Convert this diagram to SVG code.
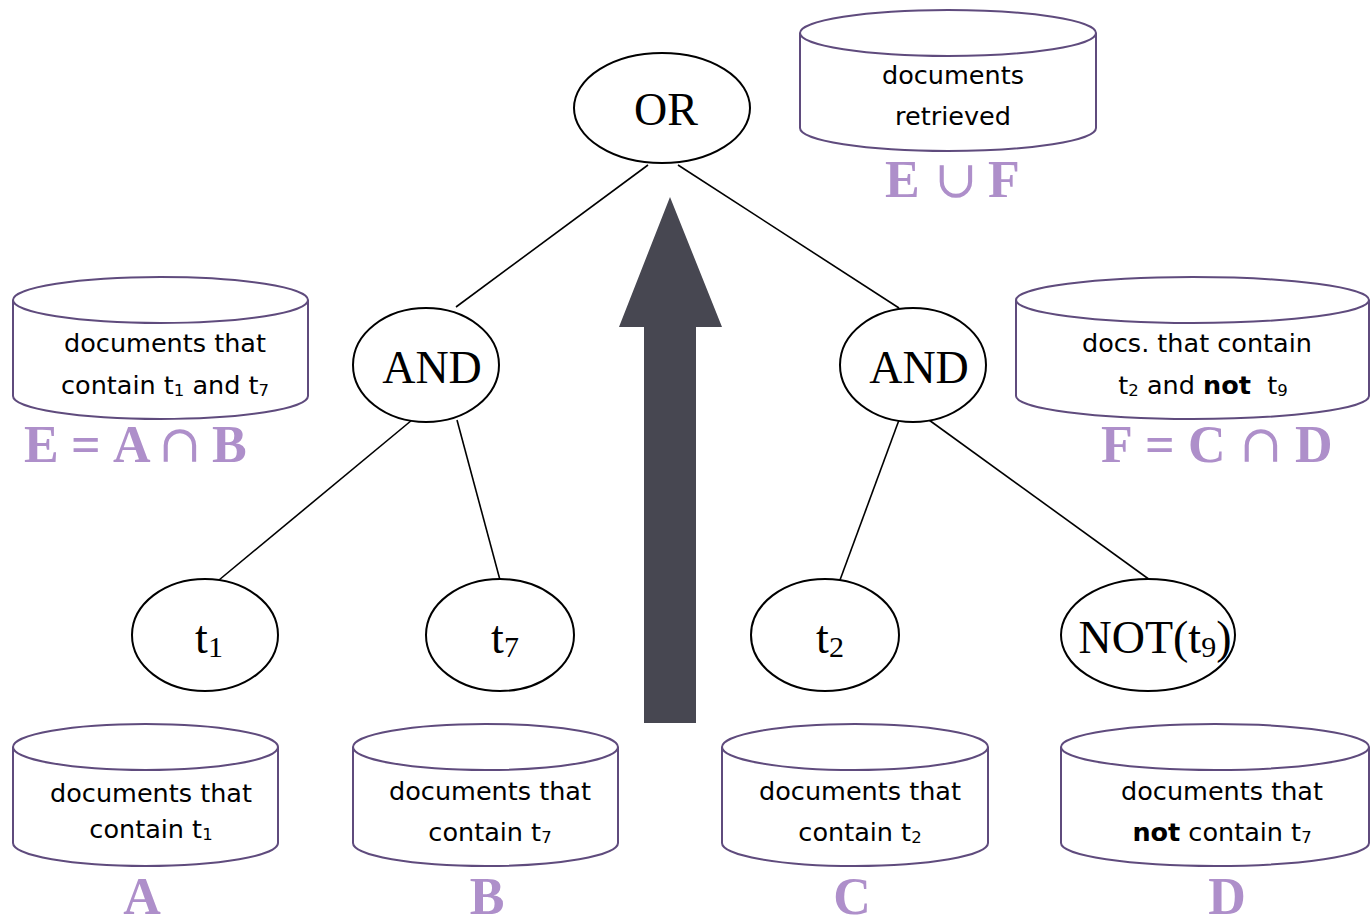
<svg xmlns="http://www.w3.org/2000/svg" width="1370" height="923" viewBox="0 0 1370 923">
  <style>
    .node { fill: #ffffff; stroke: #000000; stroke-width: 2; }
    .op { font-family: "Liberation Serif", "Times New Roman", serif; font-size: 46px; fill: #000000; text-anchor: middle; }
    .sub { font-size: 30px; }
    .edge { stroke: #000000; stroke-width: 1.6; fill: none; }
    .db { fill: #ffffff; stroke: #5f4b7d; stroke-width: 2; }
    .dbtext { font-family: "DejaVu Sans", Verdana, sans-serif; font-size: 25.5px; fill: #000000; text-anchor: middle; }
    .dsub { font-size: 16.5px; }
    .set { font-family: "Liberation Serif", "Times New Roman", serif; font-weight: bold; font-size: 52px; fill: #ae8fca; }
    .setop { font-family: "DejaVu Serif", "Liberation Serif", serif; font-weight: normal; }
  </style>

  <!-- tree edges -->
  <g id="connectors">
    <line class="edge" x1="648" y1="165" x2="456" y2="307"/>
    <line class="edge" x1="678" y1="165" x2="899" y2="308"/>
    <line class="edge" x1="412" y1="420" x2="219" y2="580"/>
    <line class="edge" x1="457" y1="420" x2="500" y2="580"/>
    <line class="edge" x1="899" y1="420" x2="840" y2="580"/>
    <line class="edge" x1="929" y1="420" x2="1150" y2="580"/>
  </g>

  <!-- evaluation direction arrow -->
  <g id="arrow">
    <polygon points="670,197 722,327 696,327 696,723 644,723 644,327 619,327" fill="#474751"/>
  </g>

  <!-- operator nodes -->
  <g id="or-node">
    <ellipse class="node" cx="662" cy="108" rx="88" ry="55"/>
    <text class="op" x="666" y="125">OR</text>
  </g>
  <g id="and-left">
    <ellipse class="node" cx="426" cy="365" rx="73" ry="57"/>
    <text class="op" x="432" y="383">AND</text>
  </g>
  <g id="and-right">
    <ellipse class="node" cx="913" cy="365" rx="73" ry="57"/>
    <text class="op" x="919" y="383">AND</text>
  </g>
  <g id="t1-node">
    <ellipse class="node" cx="205" cy="635" rx="73" ry="56"/>
    <text class="op" x="209" y="653">t<tspan class="sub" dy="4">1</tspan></text>
  </g>
  <g id="t7-node">
    <ellipse class="node" cx="500" cy="635" rx="74" ry="56"/>
    <text class="op" x="505" y="653">t<tspan class="sub" dy="4">7</tspan></text>
  </g>
  <g id="t2-node">
    <ellipse class="node" cx="825" cy="635" rx="74" ry="56"/>
    <text class="op" x="830" y="653">t<tspan class="sub" dy="4">2</tspan></text>
  </g>
  <g id="not-t9-node">
    <ellipse class="node" cx="1148" cy="635" rx="87" ry="56"/>
    <text class="op" x="1155" y="653" font-size="47">NOT(t<tspan class="sub" dy="4">9</tspan><tspan dy="-4">)</tspan></text>
  </g>

  <!-- result sets -->
  <g id="set-retrieved">
    <path class="db" d="M800 33 V128 A148 23 0 0 0 1096 128 V33"/>
    <ellipse class="db" cx="948" cy="33" rx="148" ry="23"/>
    <text class="dbtext" x="953" y="84">documents</text>
    <text class="dbtext" x="953" y="125">retrieved</text>
    <text class="set"><tspan x="885" y="197">E</tspan><tspan class="setop" x="934" y="197">∪</tspan><tspan x="988" y="197">F</tspan></text>
  </g>

  <g id="set-E">
    <path class="db" d="M13 300 V396 A147.5 23 0 0 0 308 396 V300"/>
    <ellipse class="db" cx="160.5" cy="300" rx="147.5" ry="23"/>
    <text class="dbtext" x="165" y="352">documents that</text>
    <text class="dbtext" x="165" y="394">contain t<tspan class="dsub" dy="2">1</tspan><tspan dy="-2"> and t</tspan><tspan class="dsub" dy="2">7</tspan></text>
    <text class="set"><tspan x="24" y="462">E</tspan><tspan x="71" y="462">=</tspan><tspan x="113" y="462">A</tspan><tspan class="setop" x="158" y="462">∩</tspan><tspan x="212" y="462">B</tspan></text>
  </g>

  <g id="set-F">
    <path class="db" d="M1016 300 V396 A176.5 23 0 0 0 1369 396 V300"/>
    <ellipse class="db" cx="1192.5" cy="300" rx="176.5" ry="23"/>
    <text class="dbtext" x="1197" y="352">docs. that contain</text>
    <text class="dbtext" x="1203" y="394">t<tspan class="dsub" dy="2">2</tspan><tspan dy="-2"> and </tspan><tspan font-weight="bold">not</tspan>&#160; t<tspan class="dsub" dy="2">9</tspan></text>
    <text class="set"><tspan x="1101" y="462">F</tspan><tspan x="1145" y="462">=</tspan><tspan x="1188" y="462">C</tspan><tspan class="setop" x="1239" y="462">∩</tspan><tspan x="1295" y="462">D</tspan></text>
  </g>

  <g id="set-A">
    <path class="db" d="M13 747 V843 A132.5 23 0 0 0 278 843 V747"/>
    <ellipse class="db" cx="145.5" cy="747" rx="132.5" ry="23"/>
    <text class="dbtext" x="151" y="802">documents that</text>
    <text class="dbtext" x="151" y="838">contain t<tspan class="dsub" dy="2">1</tspan></text>
    <text class="set" x="142" y="914" text-anchor="middle">A</text>
  </g>

  <g id="set-B">
    <path class="db" d="M353 747 V843 A132.5 23 0 0 0 618 843 V747"/>
    <ellipse class="db" cx="485.5" cy="747" rx="132.5" ry="23"/>
    <text class="dbtext" x="490" y="800">documents that</text>
    <text class="dbtext" x="490" y="841">contain t<tspan class="dsub" dy="2">7</tspan></text>
    <text class="set" x="487" y="914" text-anchor="middle">B</text>
  </g>

  <g id="set-C">
    <path class="db" d="M722 747 V843 A133 23 0 0 0 988 843 V747"/>
    <ellipse class="db" cx="855" cy="747" rx="133" ry="23"/>
    <text class="dbtext" x="860" y="800">documents that</text>
    <text class="dbtext" x="860" y="841">contain t<tspan class="dsub" dy="2">2</tspan></text>
    <text class="set" x="852" y="914" text-anchor="middle">C</text>
  </g>

  <g id="set-D">
    <path class="db" d="M1061 747 V843 A154 23 0 0 0 1369 843 V747"/>
    <ellipse class="db" cx="1215" cy="747" rx="154" ry="23"/>
    <text class="dbtext" x="1222" y="800">documents that</text>
    <text class="dbtext" x="1222" y="841"><tspan font-weight="bold">not</tspan> contain t<tspan class="dsub" dy="2">7</tspan></text>
    <text class="set" x="1227" y="914" text-anchor="middle">D</text>
  </g>
</svg>
